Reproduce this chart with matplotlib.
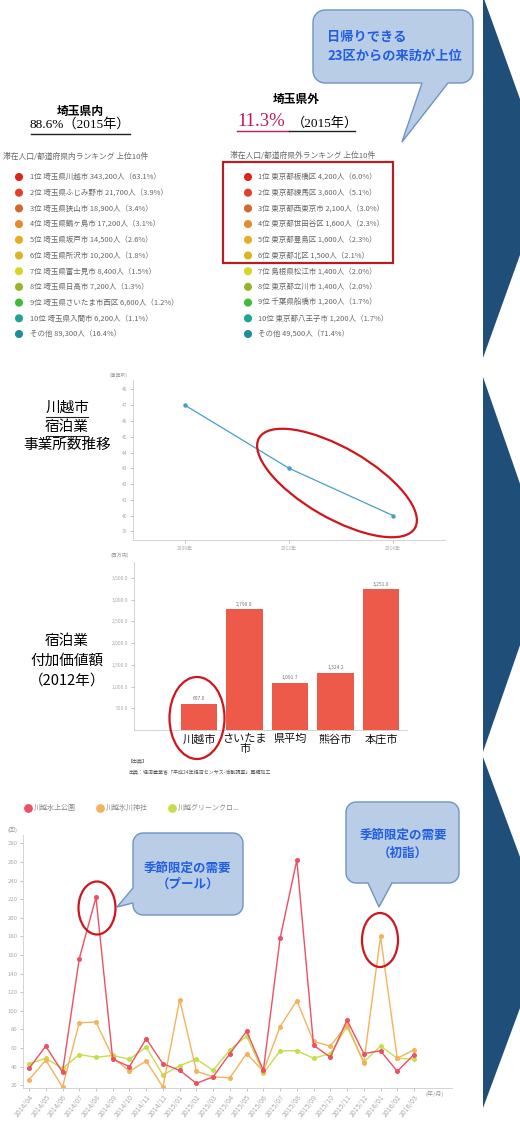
import matplotlib
matplotlib.use("Agg")
import matplotlib.pyplot as plt
from matplotlib.patches import Ellipse, Polygon, Rectangle
import numpy as np

plt.rcParams['font.family'] = ['Noto Sans CJK JP', 'DejaVu Sans']

W, H = 520, 1121

# ---------------- data ----------------
in_rank = ["1位 埼玉県川越市 343,200人（63.1%）",
           "2位 埼玉県ふじみ野市 21,700人（3.9%）",
           "3位 埼玉県狭山市 18,900人（3.4%）",
           "4位 埼玉県鶴ヶ島市 17,200人（3.1%）",
           "5位 埼玉県坂戸市 14,500人（2.6%）",
           "6位 埼玉県所沢市 10,200人（1.8%）",
           "7位 埼玉県富士見市 8,400人（1.5%）",
           "8位 埼玉県日高市 7,200人（1.3%）",
           "9位 埼玉県さいたま市西区 6,600人（1.2%）",
           "10位 埼玉県入間市 6,200人（1.1%）",
           "その他 89,300人（16.4%）"]
out_rank = ["1位 東京都板橋区 4,200人（6.0%）",
            "2位 東京都練馬区 3,600人（5.1%）",
            "3位 東京都西東京市 2,100人（3.0%）",
            "4位 東京都世田谷区 1,600人（2.3%）",
            "5位 東京都豊島区 1,600人（2.3%）",
            "6位 東京都北区 1,500人（2.1%）",
            "7位 島根県松江市 1,400人（2.0%）",
            "8位 東京都立川市 1,400人（2.0%）",
            "9位 千葉県船橋市 1,200人（1.7%）",
            "10位 東京都八王子市 1,200人（1.7%）",
            "その他 49,500人（71.4%）"]
rank_colors = ['#d9261c', '#e2402a', '#d4692d', '#e58a2e', '#e6ad23', '#d9b526',
               '#d6d624', '#98b52a', '#3fbb3a', '#1fa394', '#1f8c9c']

years = ["2009年", "2012年", "2014年"]
offices = [47, 43, 40]
office_ticks = [39, 40, 41, 42, 43, 44, 45, 46, 47, 48]

bar_cats = ["川越市", "さいたま\n市", "県平均", "熊谷市", "本庄市"]
bar_vals = [607.0, 2790.0, 1091.7, 1324.2, 3251.0]
bar_ticks = [500, 1000, 1500, 2000, 2500, 3000, 3500]

months = ["2014/04", "2014/05", "2014/06", "2014/07", "2014/08", "2014/09",
          "2014/10", "2014/11", "2014/12", "2015/01", "2015/02", "2015/03",
          "2015/04", "2015/05", "2015/06", "2015/07", "2015/08", "2015/09",
          "2015/10", "2015/11", "2015/12", "2016/01", "2016/02", "2016/03"]
pool = [38, 62, 34, 156, 222, 48, 40, 70, 43, 36, 22, 29,
        54, 78, 36, 178, 262, 63, 50, 90, 54, 57, 35, 53]
shrine = [26, 47, 18, 87, 88, 50, 35, 46, 18, 112, 35, 29,
          28, 54, 35, 83, 111, 67, 62, 85, 44, 180, 49, 58]
greencross = [43, 49, 38, 53, 50, 52, 48, 61, 31, 41, 48, 36,
              58, 73, 33, 57, 57, 49, 54, 83, 45, 62, 49, 48]
series_names = ["川越水上公園", "川越氷川神社", "川越グリーンクロ..."]
series_colors = ['#ec5062', '#f5b25c', '#c5de4c']

# ---------------- figure ----------------
fig = plt.figure(figsize=(W / 100, H / 100), dpi=100)


def box(x0, y0, x1, y1):
    return [x0 / W, 1 - y1 / H, (x1 - x0) / W, (y1 - y0) / H]


ov = fig.add_axes([0, 0, 1, 1], zorder=5)
ov.set_xlim(0, W)
ov.set_ylim(H, 0)
ov.axis('off')
ov.patch.set_alpha(0)

BLUE_TXT = '#1f5fe0'
CALL_FILL = '#b9cde6'
CALL_EDGE = '#6f93c4'
RED_RING = '#d0151c'

# chevrons on right
for (t, b) in [(-4, 358), (377, 752), (757, 1108)]:
    ov.add_patch(Polygon([(483, t), (548, (t + b) / 2), (483, b)],
                         closed=True, color='#1f4e79', lw=0))


def callout(x0, y0, x1, y1, r, side, b0, b1, tip):
    pts = []

    def arc(cx, cy, a0, a1):
        for t in np.linspace(np.radians(a0), np.radians(a1), 10):
            pts.append((cx + r * np.cos(t), cy + r * np.sin(t)))
    arc(x0 + r, y0 + r, 180, 270)
    arc(x1 - r, y0 + r, 270, 360)
    arc(x1 - r, y1 - r, 0, 90)
    if side == 'bottom':
        pts.extend([(b1, y1), tip, (b0, y1)])
    arc(x0 + r, y1 - r, 90, 180)
    if side == 'left':
        pts.extend([(x0, b1), tip, (x0, b0)])
    ov.add_patch(Polygon(pts, closed=True, facecolor=CALL_FILL,
                         edgecolor=CALL_EDGE, lw=1.0))


# ---- Section 1 ----
callout(313, 10, 473, 83, 12, 'bottom', 422, 448, (402, 142))
ov.text(327, 37, "日帰りできる", fontsize=9.5, fontweight='bold', color=BLUE_TXT,
        va='center', ha='left')
ov.text(327, 56, "23区からの来訪が上位", fontsize=9.5, fontweight='bold',
        color=BLUE_TXT, va='center', ha='left')

ov.text(80, 112, "埼玉県内", fontsize=8.5, fontweight='bold', ha='center', va='center')
ov.text(80, 124, "88.6%（2015年）", fontsize=9.5, ha='center', va='center',
        family=['Liberation Serif', 'Noto Sans CJK JP'])
ov.plot([31, 130], [134, 134], color='#222222', lw=1)

ov.text(296, 100, "埼玉県外", fontsize=8.5, fontweight='bold', ha='center', va='center')
ov.text(237, 122, "11.3%", fontsize=13.5, color='#c2185b', ha='left', va='center',
        family=['Liberation Serif', 'Noto Sans CJK JP'])
ov.text(292, 123, "（2015年）", fontsize=9.5, ha='left', va='center',
        family=['Liberation Serif', 'Noto Sans CJK JP'])
ov.plot([237, 289], [131, 131], color='#c2185b', lw=1)
ov.plot([289, 355], [131, 131], color='#222222', lw=1)

ov.text(3, 157, "滞在人口/都道府県内ランキング 上位10件", fontsize=5.6, color='#666666',
        ha='left', va='center')
ov.text(230, 156, "滞在人口/都道府県外ランキング 上位10件", fontsize=5.6, color='#666666',
        ha='left', va='center')

row_y = [177 + 15.7 * i for i in range(11)]
ov.scatter([19] * 11, row_y, s=34, c=rank_colors, zorder=6, linewidths=0)
ov.scatter([248] * 11, row_y, s=34, c=rank_colors, zorder=6, linewidths=0)
for yy, t1, t2 in zip(row_y, in_rank, out_rank):
    ov.text(30, yy, t1, fontsize=5.4, color='#666666', ha='left', va='center')
    ov.text(258, yy, t2, fontsize=5.4, color='#666666', ha='left', va='center')
ov.add_patch(Rectangle((223, 162), 170, 101, fill=False, edgecolor='#b21f24', lw=1.6))

# ---- Section 2: line chart ----
ov.text(67, 408, "川越市", fontsize=10.5, ha='center', va='center')
ov.text(67, 427, "宿泊業", fontsize=10.5, ha='center', va='center')
ov.text(67, 445, "事業所数推移", fontsize=10.5, ha='center', va='center')
ov.plot([46, 88], [417, 417], color='#222222', lw=0.8)
ov.plot([46, 88], [436, 436], color='#222222', lw=0.8)

ax2 = fig.add_axes(box(133, 380, 445, 540))
ax2.plot(range(len(years)), offices, color='#4a9cc9', lw=0.9, marker='o', ms=2.2)
ax2.set_xlim(-0.5, 2.5)
ax2.set_ylim(38.45, 48.6)
ax2.set_yticks(office_ticks)
ax2.set_yticklabels([str(v) for v in office_ticks])
ax2.set_xticks(range(len(years)))
ax2.set_xticklabels(years)
for sp in ['top', 'right']:
    ax2.spines[sp].set_visible(False)
for sp in ['left', 'bottom']:
    ax2.spines[sp].set_color('#cccccc')
    ax2.spines[sp].set_linewidth(0.6)
ax2.tick_params(labelsize=3.5, colors='#aaaaaa', length=2, width=0.5, pad=2)
ov.text(118, 375, "(事業所)", fontsize=3.5, color='#999999', ha='center', va='center')
ov.add_patch(Ellipse((337, 483), 180, 70, angle=30, fill=False,
                     edgecolor=RED_RING, lw=1.6))

# ---- Section 2: bar chart ----
ov.text(67, 641, "宿泊業", fontsize=10.5, ha='center', va='center')
ov.text(67, 661, "付加価値額", fontsize=10.5, ha='center', va='center')
ov.text(67, 681, "（2012年）", fontsize=10.5, ha='center', va='center')

ax3 = fig.add_axes(box(134, 562, 407, 730))
ax3.bar(range(len(bar_cats)), bar_vals, width=0.8, color='#ee5a4a')
ax3.set_xlim(-1.43, 4.57)
ax3.set_ylim(0, 3870)
ax3.set_yticks(bar_ticks)
ax3.set_yticklabels([f"{v:,.1f}" for v in bar_ticks])
ax3.set_xticks(range(len(bar_cats)))
ax3.set_xticklabels(bar_cats, fontsize=8, color='#111111', linespacing=1.0)
for sp in ['top', 'right']:
    ax3.spines[sp].set_visible(False)
for sp in ['left', 'bottom']:
    ax3.spines[sp].set_color('#cccccc')
    ax3.spines[sp].set_linewidth(0.6)
ax3.tick_params(axis='y', labelsize=3.6, colors='#aaaaaa', length=2, width=0.5, pad=2)
ax3.tick_params(axis='x', length=0, pad=3)
for i, v in enumerate(bar_vals):
    ax3.text(i, v + 50, f"{v:,.1f}", fontsize=3.6, color='#777777',
             ha='center', va='bottom')
ov.text(120, 555, "(百万円)", fontsize=3.6, color='#999999', ha='center', va='center')
ov.text(128, 762, "【出典】", fontsize=3.6, color='#555555', ha='left', va='center')
ov.text(128, 772, "出典：経済産業省「平成24年経済センサス-活動調査」再編加工",
        fontsize=3.6, color='#555555', ha='left', va='center')
ov.add_patch(Ellipse((197, 718), 55, 82, fill=False, edgecolor=RED_RING, lw=1.6))

# ---- Section 3: monthly visitors ----
for i, (nm, col) in enumerate(zip(series_names, series_colors)):
    x = [28, 100, 172][i]
    ov.scatter([x], [808], s=40, color=col, linewidths=0, zorder=6)
    ov.text(x + 6, 808, nm, fontsize=5, color='#888888', ha='left', va='center')

ax4 = fig.add_axes(box(23, 835, 452, 1088))
xs = np.arange(len(months))
for vals, col in zip([greencross, shrine, pool], series_colors[::-1]):
    ax4.plot(xs, vals, color=col, lw=1.0, marker='o', ms=2.6)
ax4.set_xlim(-0.36, 25.27)
ax4.set_ylim(17, 289)
ax4.set_yticks(range(20, 281, 20))
ax4.set_xticks(xs)
ax4.set_xticklabels(months, rotation=52, ha='right', rotation_mode='anchor')
for sp in ['top', 'right']:
    ax4.spines[sp].set_visible(False)
for sp in ['left', 'bottom']:
    ax4.spines[sp].set_color('#cccccc')
    ax4.spines[sp].set_linewidth(0.6)
ax4.tick_params(axis='y', labelsize=4.3, colors='#aaaaaa', length=2, width=0.5, pad=2)
ax4.tick_params(axis='x', labelsize=5, colors='#aaaaaa', length=2, width=0.5, pad=2)
ov.text(12, 830, "(回)", fontsize=4.3, color='#999999', ha='center', va='center')
ov.text(435, 1094, "(年/月)", fontsize=4.3, color='#999999', ha='center', va='center')

callout(133, 833, 243, 915, 10, 'left', 888, 903, (117, 907))
ov.text(188, 868, "季節限定の需要", fontsize=9, fontweight='bold', color=BLUE_TXT,
        ha='center', va='center')
ov.text(188, 884, "（プール）", fontsize=9, fontweight='bold', color=BLUE_TXT,
        ha='center', va='center')
callout(346, 802, 459, 883, 10, 'bottom', 368, 392, (379, 907))
ov.text(403, 835, "季節限定の需要", fontsize=9, fontweight='bold', color=BLUE_TXT,
        ha='center', va='center')
ov.text(403, 853, "（初詣）", fontsize=9, fontweight='bold', color=BLUE_TXT,
        ha='center', va='center')
ov.add_patch(Ellipse((97, 908), 37, 53, fill=False, edgecolor=RED_RING, lw=1.6))
ov.add_patch(Ellipse((380, 940), 36, 54, fill=False, edgecolor=RED_RING, lw=1.6))

fig.savefig("out.png", dpi=100)
